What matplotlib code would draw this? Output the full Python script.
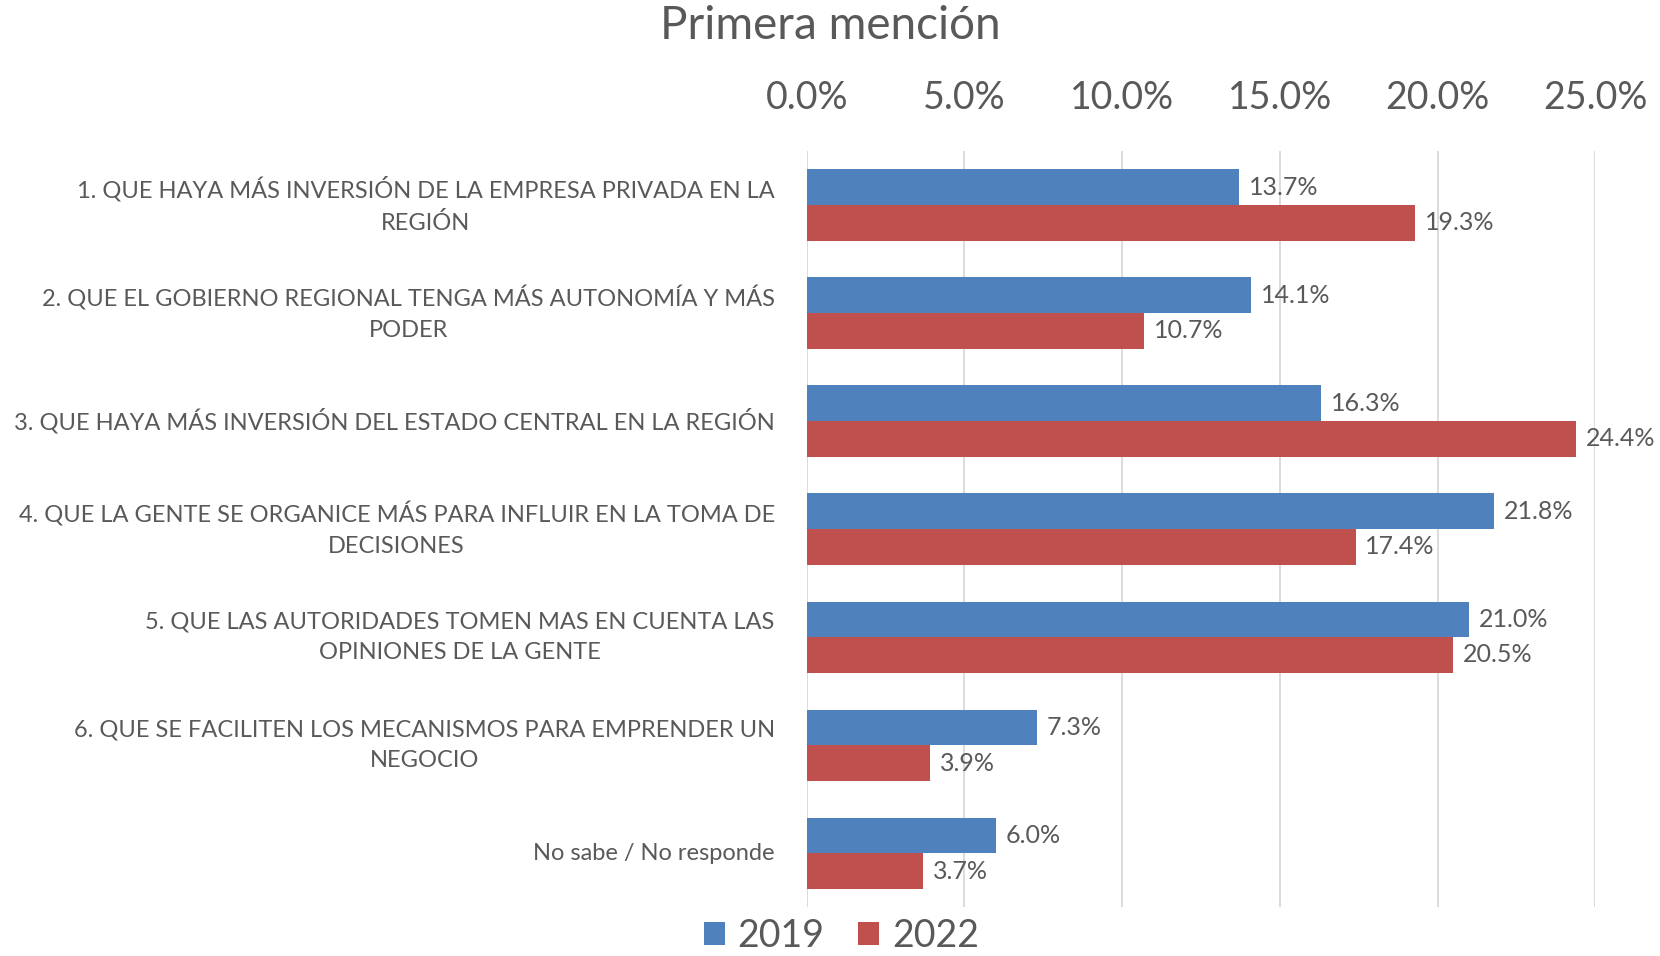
import matplotlib.pyplot as plt
import matplotlib.transforms as mtransforms
import numpy as np

plt.rcParams['font.family'] = ['Lato', 'DejaVu Sans']

categories = [
    "1. QUE HAYA MÁS INVERSIÓN DE LA EMPRESA PRIVADA EN LA\nREGIÓN",
    "2. QUE EL GOBIERNO REGIONAL TENGA MÁS AUTONOMÍA Y MÁS\nPODER",
    "3. QUE HAYA MÁS INVERSIÓN DEL ESTADO CENTRAL EN LA REGIÓN",
    "4. QUE LA GENTE SE ORGANICE MÁS PARA INFLUIR EN LA TOMA DE\nDECISIONES",
    "5. QUE LAS AUTORIDADES TOMEN MAS EN CUENTA LAS\nOPINIONES DE LA GENTE",
    "6. QUE SE FACILITEN LOS MECANISMOS PARA EMPRENDER UN\nNEGOCIO",
    "No sabe / No responde",
]
vals_2019 = [13.7, 14.1, 16.3, 21.8, 21.0, 7.3, 6.0]
vals_2022 = [19.3, 10.7, 24.4, 17.4, 20.5, 3.9, 3.7]
series = ["2019", "2022"]
colors = ["#4F81BD", "#C0504D"]
ticks = [0, 5, 10, 15, 20, 25]

text_color = "#595959"

fig = plt.figure(figsize=(16.6, 9.56), dpi=100)
ax = fig.add_axes([0.486, 0.051, 0.475, 0.791])

y = np.arange(len(categories))
h = 0.33
b1 = ax.barh(y - h / 2, vals_2019, height=h, color=colors[0], label=series[0])
b2 = ax.barh(y + h / 2, vals_2022, height=h, color=colors[1], label=series[1])

for bars in (b1, b2):
    ax.bar_label(bars, labels=[f"{v.get_width():.1f}%" for v in bars],
                 padding=7, fontsize=18, color=text_color)

ax.set_xlim(0, 25)
ax.set_ylim(len(categories) - 0.5, -0.5)
ax.set_xticks(ticks)
ax.set_xticklabels([f"{t:.1f}%" for t in ticks])
ax.xaxis.tick_top()
ax.tick_params(axis='x', length=0, pad=25, labelsize=27, labelcolor=text_color)
ax.set_yticks(y)
ax.set_yticklabels([])
ax.tick_params(axis='y', length=0)

# category labels, drawn by hand so the wrapped lines are centred
trans = mtransforms.blended_transform_factory(ax.transAxes, ax.transData)
trans = trans + mtransforms.ScaledTranslation(-0.32, 0, fig.dpi_scale_trans)
for yi, cat in zip(y, categories):
    ax.text(0, yi, cat, transform=trans, ha='right', va='center',
            multialignment='center', linespacing=1.55, fontsize=17,
            color=text_color)

ax.grid(axis='x', color='#D9D9D9', linewidth=1.3)
ax.set_axisbelow(True)
for s in ax.spines.values():
    s.set_visible(False)

fig.suptitle("Primera mención", x=0.5, y=0.973, va='center', fontsize=33, color=text_color)
fig.legend(loc='center', bbox_to_anchor=(0.507, 0.021), ncol=2, frameon=False,
           fontsize=27, handlelength=0.55, handleheight=0.55, handletextpad=0.35,
           columnspacing=0.9, labelcolor=text_color)

fig.savefig("out.png", dpi=100)
